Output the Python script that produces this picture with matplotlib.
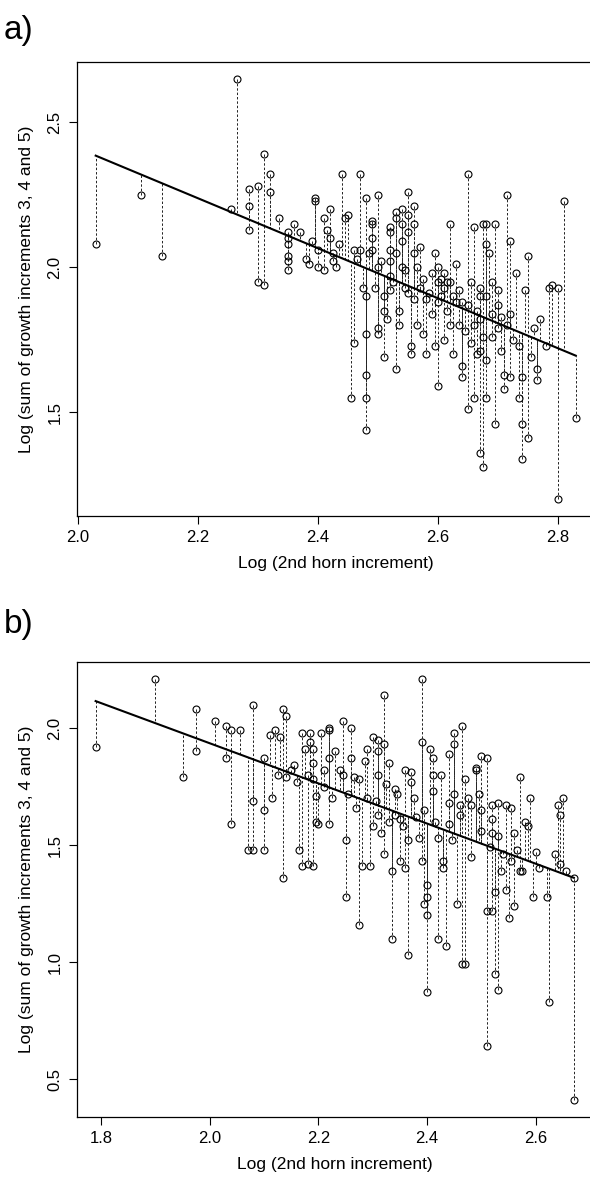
import numpy as np
import matplotlib
matplotlib.use("Agg")
import matplotlib.pyplot as plt

plt.rcParams['font.family'] = ['Liberation Sans', 'DejaVu Sans']

# ---------------- Panel a data ----------------
a_x = [2.03, 2.105, 2.14, 2.255, 2.265, 2.285, 2.285, 2.285, 2.30, 2.30,
       2.31, 2.31, 2.32, 2.32, 2.335, 2.35, 2.35, 2.35, 2.35, 2.35,
       2.35, 2.36, 2.37, 2.38, 2.385, 2.39, 2.395, 2.395, 2.40, 2.40,
       2.41, 2.41, 2.415, 2.42, 2.42, 2.425, 2.425, 2.43, 2.435, 2.44,
       2.445, 2.45, 2.455, 2.46, 2.46, 2.465, 2.47, 2.47, 2.475, 2.48,
       2.48, 2.48, 2.48, 2.48, 2.48, 2.485, 2.49, 2.49, 2.49, 2.49,
       2.495, 2.50, 2.50, 2.50, 2.50, 2.505, 2.51, 2.51, 2.51, 2.515,
       2.52, 2.52, 2.52, 2.52, 2.52, 2.52, 2.525, 2.53, 2.53, 2.53,
       2.53, 2.535, 2.535, 2.54, 2.54, 2.54, 2.54, 2.545, 2.545, 2.55,
       2.55, 2.55, 2.55, 2.555, 2.555, 2.56, 2.56, 2.56, 2.56, 2.565,
       2.565, 2.57, 2.57, 2.575, 2.575, 2.58, 2.58, 2.585, 2.59, 2.59,
       2.595, 2.595, 2.60, 2.60, 2.60, 2.60, 2.605, 2.605, 2.61, 2.61,
       2.61, 2.615, 2.615, 2.62, 2.62, 2.62, 2.625, 2.625, 2.63, 2.63,
       2.635, 2.635, 2.64, 2.64, 2.64, 2.645, 2.65, 2.65, 2.65, 2.655,
       2.655, 2.66, 2.66, 2.66, 2.665, 2.665, 2.67, 2.67, 2.67, 2.67,
       2.67, 2.675, 2.675, 2.675, 2.68, 2.68, 2.68, 2.68, 2.68, 2.685,
       2.69, 2.69, 2.69, 2.695, 2.695, 2.70, 2.70, 2.70, 2.705, 2.705,
       2.71, 2.71, 2.715, 2.715, 2.72, 2.72, 2.72, 2.725, 2.73, 2.735,
       2.735, 2.74, 2.74, 2.74, 2.745, 2.75, 2.75, 2.755, 2.76, 2.765,
       2.77, 2.765, 2.78, 2.785, 2.79, 2.80, 2.80, 2.81, 2.83]
a_y = [2.08, 2.25, 2.04, 2.20, 2.65, 2.13, 2.21, 2.27, 2.28, 1.95,
       1.94, 2.39, 2.26, 2.32, 2.17, 2.10, 2.08, 2.04, 2.02, 1.99,
       2.12, 2.15, 2.12, 2.03, 2.01, 2.09, 2.24, 2.23, 2.06, 2.00,
       2.17, 1.99, 2.13, 2.20, 2.10, 2.05, 2.02, 2.00, 2.08, 2.32,
       2.17, 2.18, 1.55, 1.74, 2.06, 2.03, 2.32, 2.06, 1.93, 1.90,
       1.63, 1.55, 1.44, 2.24, 1.77, 2.05, 2.16, 2.06, 2.15, 2.10,
       1.93, 1.77, 2.25, 2.00, 1.79, 2.02, 1.69, 1.85, 1.90, 1.82,
       2.14, 2.12, 2.06, 2.02, 1.97, 1.92, 1.95, 2.19, 2.17, 2.05,
       1.65, 1.80, 1.85, 2.20, 2.15, 2.09, 2.00, 1.99, 1.93, 2.26,
       2.18, 2.12, 1.91, 1.73, 1.70, 2.21, 2.15, 2.05, 1.89, 2.00,
       1.80, 1.93, 2.07, 1.96, 1.77, 1.89, 1.70, 1.91, 1.98, 1.84,
       2.05, 1.73, 2.00, 1.95, 1.88, 1.59, 1.96, 1.90, 1.98, 1.93,
       1.75, 1.95, 1.85, 2.15, 1.95, 1.80, 1.90, 1.70, 2.01, 1.88,
       1.80, 1.92, 1.66, 1.62, 1.88, 1.78, 2.32, 1.87, 1.51, 1.95,
       1.74, 2.14, 1.80, 1.55, 1.85, 1.70, 1.93, 1.90, 1.82, 1.71,
       1.36, 2.15, 1.31, 1.76, 2.15, 2.08, 1.90, 1.68, 1.55, 2.05,
       1.95, 1.84, 1.76, 1.46, 2.15, 1.92, 1.87, 1.79, 1.71, 1.83,
       1.63, 1.58, 2.25, 1.80, 2.09, 1.84, 1.62, 1.75, 1.98, 1.73,
       1.55, 1.34, 1.46, 1.62, 1.92, 2.04, 1.41, 1.69, 1.79, 1.61,
       1.82, 1.65, 1.73, 1.93, 1.94, 1.93, 1.20, 2.23, 1.48]
a_fit = (2.385, -0.8625, 2.03)   # value at x0, slope, x0

# ---------------- Panel b data ----------------
b_x = [1.79, 1.90, 1.95, 1.975, 1.975, 2.01, 2.03, 2.03, 2.04, 2.04,
       2.055, 2.07, 2.08, 2.08, 2.08, 2.10, 2.10, 2.10, 2.11, 2.115,
       2.12, 2.125, 2.13, 2.135, 2.135, 2.14, 2.14, 2.15, 2.155, 2.16,
       2.165, 2.17, 2.17, 2.175, 2.18, 2.18, 2.185, 2.185, 2.19, 2.19,
       2.19, 2.195, 2.195, 2.20, 2.19, 2.205, 2.21, 2.21, 2.22, 2.22,
       2.22, 2.22, 2.225, 2.23, 2.24, 2.245, 2.245, 2.25, 2.25, 2.255,
       2.26, 2.26, 2.265, 2.27, 2.275, 2.275, 2.28, 2.285, 2.29, 2.29,
       2.295, 2.30, 2.30, 2.305, 2.31, 2.31, 2.31, 2.31, 2.315, 2.32,
       2.32, 2.32, 2.325, 2.33, 2.33, 2.335, 2.335, 2.34, 2.34, 2.345,
       2.35, 2.35, 2.355, 2.36, 2.36, 2.365, 2.365, 2.37, 2.37, 2.375,
       2.38, 2.385, 2.39, 2.39, 2.39, 2.395, 2.395, 2.40, 2.40, 2.40,
       2.40, 2.405, 2.41, 2.41, 2.41, 2.415, 2.42, 2.42, 2.425, 2.43,
       2.43, 2.435, 2.44, 2.44, 2.44, 2.445, 2.45, 2.45, 2.45, 2.455,
       2.46, 2.46, 2.465, 2.465, 2.47, 2.47, 2.475, 2.48, 2.48, 2.49,
       2.49, 2.495, 2.50, 2.50, 2.50, 2.51, 2.51, 2.51, 2.515, 2.52,
       2.52, 2.52, 2.52, 2.525, 2.525, 2.53, 2.53, 2.53, 2.535, 2.54,
       2.545, 2.545, 2.55, 2.555, 2.555, 2.56, 2.56, 2.565, 2.57, 2.57,
       2.575, 2.58, 2.585, 2.59, 2.595, 2.60, 2.605, 2.62, 2.625, 2.635,
       2.64, 2.645, 2.645, 2.65, 2.655, 2.67, 2.67]
b_y = [1.92, 2.21, 1.79, 2.08, 1.90, 2.03, 2.01, 1.87, 1.99, 1.59,
       1.99, 1.48, 2.10, 1.69, 1.48, 1.87, 1.65, 1.48, 1.97, 1.70,
       1.99, 1.80, 1.96, 2.08, 1.36, 2.05, 1.79, 1.82, 1.84, 1.77,
       1.48, 1.98, 1.41, 1.91, 1.80, 1.42, 1.98, 1.94, 1.91, 1.85,
       1.78, 1.71, 1.60, 1.59, 1.41, 1.98, 1.82, 1.75, 2.00, 1.99,
       1.87, 1.59, 1.70, 1.90, 1.82, 2.03, 1.80, 1.52, 1.28, 1.72,
       2.00, 1.87, 1.79, 1.66, 1.78, 1.16, 1.41, 1.86, 1.91, 1.70,
       1.41, 1.96, 1.58, 1.69, 1.95, 1.90, 1.80, 1.63, 1.55, 2.14,
       1.93, 1.46, 1.76, 1.85, 1.60, 1.39, 1.10, 1.74, 1.63, 1.72,
       1.61, 1.43, 1.58, 1.82, 1.40, 1.52, 1.03, 1.81, 1.77, 1.70,
       1.62, 1.53, 2.21, 1.94, 1.43, 1.65, 1.25, 1.33, 1.28, 1.20,
       0.87, 1.91, 1.87, 1.80, 1.73, 1.60, 1.53, 1.10, 1.80, 1.43,
       1.40, 1.07, 1.89, 1.68, 1.59, 1.52, 1.98, 1.93, 1.72, 1.25,
       1.67, 1.63, 2.01, 0.99, 0.99, 1.78, 1.70, 1.67, 1.45, 1.83,
       1.82, 1.72, 1.88, 1.65, 1.56, 1.87, 1.22, 0.64, 1.49, 1.67,
       1.61, 1.55, 1.22, 1.30, 0.95, 1.68, 1.54, 0.88, 1.39, 1.46,
       1.67, 1.31, 1.19, 1.66, 1.43, 1.55, 1.24, 1.48, 1.79, 1.39,
       1.39, 1.60, 1.58, 1.70, 1.28, 1.47, 1.40, 1.28, 0.83, 1.46,
       1.67, 1.63, 1.42, 1.70, 1.39, 1.36, 0.41]
b_fit = (2.115, -0.858, 1.79)

xlabel = "Log (2nd horn increment)"
ylabel = "Log (sum of growth increments 3, 4 and 5)"
a_xticks = [2.0, 2.2, 2.4, 2.6, 2.8]
a_yticks = [1.5, 2.0, 2.5]
b_xticks = [1.8, 2.0, 2.2, 2.4, 2.6]
b_yticks = [0.5, 1.0, 1.5, 2.0]

W, H = 590, 1185
fig = plt.figure(figsize=(W / 100, H / 100), dpi=100)


def panel(rect, xs, ys, fit, xticks, yticks, letter, letter_y):
    l, t, r, b = rect
    ax = fig.add_axes([l / W, 1 - b / H, (r - l) / W, (b - t) / H])
    xs = np.asarray(xs)
    ys = np.asarray(ys)
    y0, slope, x0 = fit
    pred = y0 + slope * (xs - x0)
    ax.vlines(xs, ys, pred, colors='#222222', linestyles=(0, (2.5, 2)), linewidth=0.7)
    lx = np.array([xs.min(), xs.max()])
    ax.plot(lx, y0 + slope * (lx - x0), color='black', lw=1.5)
    ax.plot(xs, ys, 'o', mfc='none', mec='black', ms=5, mew=0.8)
    xr = xs.max() - xs.min()
    yr = ys.max() - ys.min()
    ax.set_xlim(xs.min() - 0.04 * xr, xs.max() + 0.04 * xr)
    ax.set_ylim(ys.min() - 0.04 * yr, ys.max() + 0.04 * yr)
    ax.set_xticks(xticks)
    ax.set_yticks(yticks)
    ax.set_xticklabels([f"{v:.1f}" for v in xticks])
    ax.set_yticklabels([f"{v:.1f}" for v in yticks], rotation=90, va='center')
    ax.tick_params(direction='out', length=6, width=0.8, labelsize=12, pad=4)
    for s in ax.spines.values():
        s.set_linewidth(0.9)
    ax.set_xlabel(xlabel, fontsize=12.5, labelpad=8)
    ax.set_ylabel(ylabel, fontsize=12.5, labelpad=10)
    fig.text(4 / W, 1 - letter_y / H, letter, fontsize=24, ha='left', va='center')
    return ax


panel((76.5, 62, 595, 516), a_x, a_y, a_fit, a_xticks, a_yticks, "a)", 30)
panel((76.5, 662, 593, 1117), b_x, b_y, b_fit, b_xticks, b_yticks, "b)", 625)

fig.savefig("out.png", dpi=100)
